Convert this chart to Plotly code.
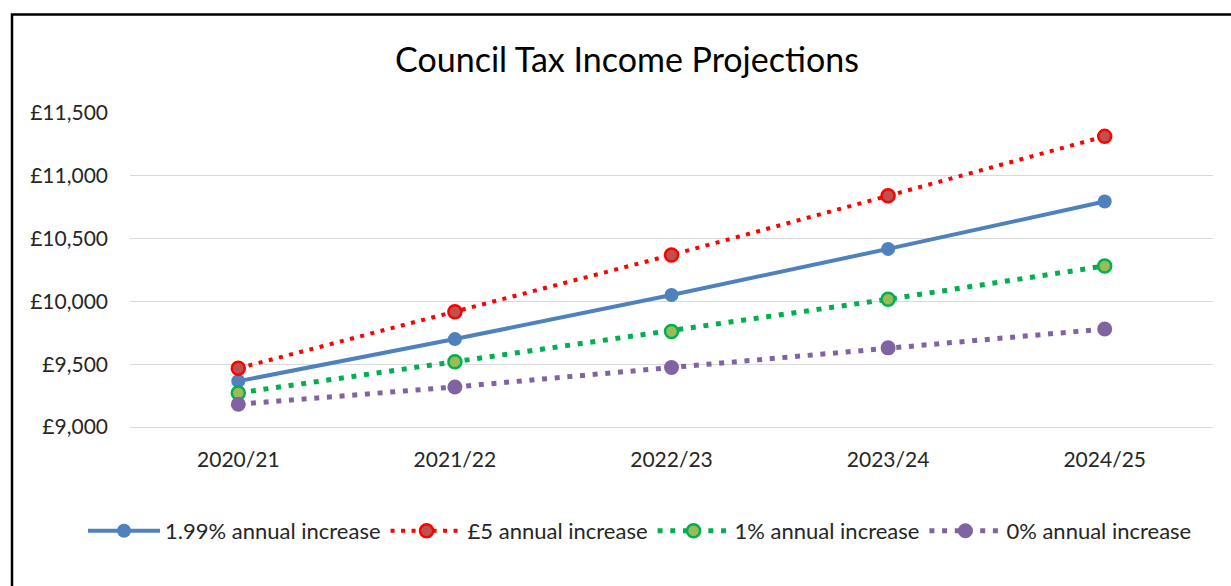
import plotly.graph_objects as go

years = ["2020/21", "2021/22", "2022/23", "2023/24", "2024/25"]
inc_199 = [9365, 9700, 10051, 10418, 10795]
inc_5 = [9468, 9918, 10370, 10841, 11314]
inc_1 = [9271, 9519, 9760, 10017, 10282]
inc_0 = [9181, 9319, 9474, 9630, 9780]
series_names = ["1.99% annual increase", "£5 annual increase", "1% annual increase", "0% annual increase"]

FONT = "Lato"
fig = go.Figure()

fig.add_trace(go.Scatter(x=years, y=inc_199, name=series_names[0], mode="lines+markers",
                         line=dict(color="#4F81BD", width=4),
                         marker=dict(color="#4F81BD", size=14)))
fig.add_trace(go.Scatter(x=years, y=inc_5, name=series_names[1], mode="lines+markers",
                         line=dict(color="#FF0000", width=4, dash="4px,6.5px"),
                         marker=dict(color="#C0504D", size=13, line=dict(color="#FF0000", width=2.5))))
fig.add_trace(go.Scatter(x=years, y=inc_1, name=series_names[2], mode="lines+markers",
                         line=dict(color="#00B050", width=5, dash="5px,7.7px"),
                         marker=dict(color="#9BBB59", size=13, line=dict(color="#00B050", width=2.5))))
fig.add_trace(go.Scatter(x=years, y=inc_0, name=series_names[3], mode="lines+markers",
                         line=dict(color="#8064A2", width=5, dash="5px,7.7px"),
                         marker=dict(color="#8064A2", size=15)))

W, H = 1231, 586
L, R, T, B = 130, 18, 113, 159
pw, ph = W - L - R, H - T - B

def px_x(p):
    return (p - L) / pw

def px_y(p):
    return (H - B - p) / ph

fig.update_layout(
    width=W, height=H,
    margin=dict(l=L, r=R, t=T, b=B),
    paper_bgcolor="white", plot_bgcolor="white",
    font=dict(family=FONT, color="#262626", size=21),
    title=dict(text="Council Tax Income Projections", x=627 / W, xanchor="center",
               xref="container", y=1 - 60 / H, yanchor="middle", yref="container",
               font=dict(family=FONT, size=34, color="#000000")),
    showlegend=True,
    legend=dict(orientation="h", x=px_x(83), xanchor="left", y=px_y(531), yanchor="middle",
                font=dict(family=FONT, size=22, color="#262626"), itemwidth=72,
                bgcolor="rgba(0,0,0,0)"),
    hovermode=False,
    shapes=[dict(type="rect", xref="paper", yref="paper",
                 x0=px_x(12), x1=px_x(1245), y0=px_y(600), y1=px_y(14.5),
                 line=dict(color="black", width=2.5), fillcolor="rgba(0,0,0,0)", layer="above")],
)
fig.update_xaxes(type="category", showgrid=False, showline=True, linecolor="#D9D9D9", linewidth=1,
                 ticks="", tickfont=dict(size=21, family=FONT, color="#262626"), ticklabelstandoff=14,
                 range=[-0.5, 4.5])
fig.update_yaxes(range=[9000, 11500], dtick=500, tick0=9000, tickprefix="£", tickformat=",",
                 showgrid=True, gridcolor="#D9D9D9", gridwidth=1, zeroline=False, showline=False,
                 ticks="", tickfont=dict(size=21, family=FONT, color="#262626"), ticklabelstandoff=21)

fig.write_html("out.html")
